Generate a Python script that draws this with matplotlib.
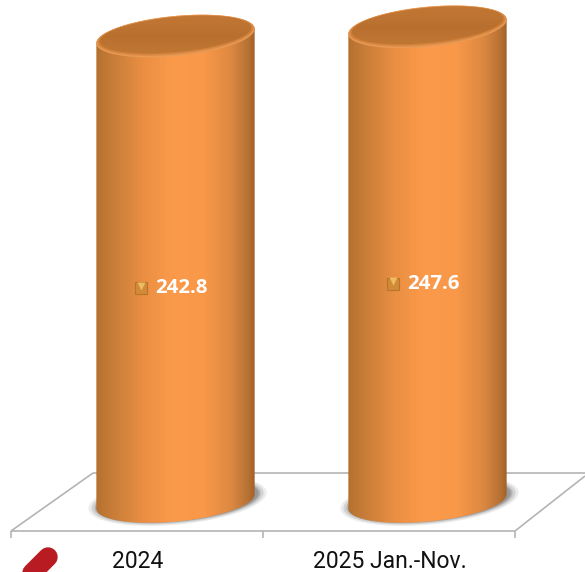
#!/usr/bin/env python3
# -*- coding: utf-8 -*-
import numpy as np
import matplotlib
matplotlib.use("Agg")
import matplotlib.pyplot as plt
from matplotlib.colors import LinearSegmentedColormap
from matplotlib.patches import Polygon

categories = ["2024", "2025 Jan.-Nov."]
values = [242.8, 247.6]

W, H = 585, 572
BASE_PX = 501.5      # pixel row of value 0
PX_PER_UNIT = 1.917
PX_PER_CAT = 252
FIRST_PX = 175.5     # pixel column of first category
A, B, TILT = 79.5, 20.0, 5.5

plt.rcParams['font.family'] = ['Open Sans', 'DejaVu Sans']

body_cmap = LinearSegmentedColormap.from_list("body", [
    (0.00, "#b4702f"), (0.10, "#c67c38"), (0.30, "#ea8f43"), (0.48, "#fb9a4a"),
    (0.68, "#f99848"), (0.85, "#dc8842"), (0.95, "#b87234"), (1.00, "#a06029")])
top_cmap = LinearSegmentedColormap.from_list("top", ["#c47835", "#b9702f", "#c47a36"])


def px_x(p):
    return (p - FIRST_PX) / PX_PER_CAT


def px_y(p):
    return (BASE_PX - p) / PX_PER_UNIT


def ellipse_px(cx, cy, a=A, b=B, tilt=TILT, t=None):
    # tilted ellipse in pixel units, y pointing down
    if t is None:
        t = np.linspace(0, 2 * np.pi, 200)
    th = np.radians(tilt)
    x = a * np.cos(t)
    y = b * np.sin(t)
    return cx + x * np.cos(th) + y * np.sin(th), cy - x * np.sin(th) + y * np.cos(th)


def to_data(x, y):
    return np.column_stack([px_x(np.asarray(x)), px_y(np.asarray(y))])


def cylinder(ax, pos, val):
    cx = FIRST_PX + pos * PX_PER_CAT
    top = BASE_PX - val * PX_PER_UNIT

    # soft shadow on the floor
    for grow, alpha in zip([10, 7, 4, 2], [0.12, 0.2, 0.3, 0.4]):
        sx, sy = ellipse_px(cx + 2, BASE_PX - 1, a=A + grow, b=B + grow * 0.4)
        ax.add_patch(Polygon(to_data(sx, sy), closed=True, fc="#6f6f6f", ec="none",
                             alpha=alpha, zorder=2))

    # side of the cylinder, gradient clipped to its outline
    th = np.radians(TILT)
    t0 = np.arctan2(B * np.sin(th), A * np.cos(th))
    t_low = np.linspace(t0, t0 + np.pi, 100)
    bx, by = ellipse_px(cx, BASE_PX, t=t_low)
    t_up = np.linspace(t0 + np.pi, t0 + 2 * np.pi, 100)
    ux, uy = ellipse_px(cx, top, t=t_up)
    outline = Polygon(to_data(np.r_[bx, ux], np.r_[by, uy]), closed=True, fc="none", ec="none")
    ax.add_patch(outline)
    grad = np.linspace(0, 1, 256).reshape(1, -1)
    xl, xr = bx.min() - 1, bx.max() + 1
    im = ax.imshow(grad, cmap=body_cmap, aspect="auto", zorder=3, interpolation="bilinear",
                   extent=[px_x(xl), px_x(xr), px_y(BASE_PX + 30), px_y(top - 30)])
    im.set_clip_path(outline)

    # top face with a bevelled rim
    for da, db, dy, col in [(0, 0, 0, "#e99a54"), (-1, -1, -0.5, "#dc8c46"),
                            (-2, -2, -1, "#cf8039")]:
        ex, ey = ellipse_px(cx, top + dy, a=A + da, b=B + db)
        ax.add_patch(Polygon(to_data(ex, ey), closed=True, fc=col, ec="none", zorder=4))
    ex, ey = ellipse_px(cx, top - 1.5, a=A - 3.5, b=B - 2.5)
    face = Polygon(to_data(ex, ey), closed=True, fc="none", ec="none", zorder=5)
    ax.add_patch(face)
    im2 = ax.imshow(np.linspace(0, 1, 64).reshape(-1, 1), cmap=top_cmap, aspect="auto", zorder=5,
                    extent=[px_x(cx - 85), px_x(cx + 85), px_y(top + 25), px_y(top - 25)])
    im2.set_clip_path(face)


def main():
    fig = plt.figure(figsize=[W / 100, H / 100], dpi=100)
    ax = fig.add_axes([0, 0, 1, 1])
    ax.axis("off")

    # floor of the 3D plot
    floor = dict(color="#b4b4b4", lw=1.2, zorder=1, solid_capstyle="butt")
    ax.plot(px_x(np.array([11, 515])), px_y(np.array([531, 531])), **floor)
    ax.plot(px_x(np.array([93, 585])), px_y(np.array([473, 473])), **floor)
    ax.plot(px_x(np.array([11, 93])), px_y(np.array([531, 473])), **floor)
    ax.plot(px_x(np.array([515, 585])), px_y(np.array([531, 476])), **floor)
    for i in range(len(categories) + 1):
        xt = px_x(11 + i * PX_PER_CAT)
        ax.plot([xt, xt], px_y(np.array([531, 538])), **floor)

    for i, v in enumerate(values):
        cylinder(ax, i, v)
        ly = v * 0.459
        ax.plot(i - 35 / PX_PER_CAT, ly, marker="s", ms=8.5, mfc="#d08a38", mec="#b87428",
                mew=0.8, zorder=6)
        ax.plot(i - 35 / PX_PER_CAT, ly + 1.2, marker="v", ms=6, mfc="#eebc60", mec="none",
                zorder=7)
        ax.text(i + 5.5 / PX_PER_CAT, ly, "%.1f" % v, color="white", fontsize=14.7, fontweight="bold",
                ha="center", va="center", zorder=7)
        # Roboto here: the J of Open Sans drops below the picture's edge
        ax.text(i - 38 / PX_PER_CAT, px_y(562), categories[i], family="Roboto",
                color="#111111", fontsize=16.5, ha="center", va="center", zorder=7)

    # cut off red stroke from the slide behind
    ax.plot(px_x(np.array([48, 20])), px_y(np.array([557, 585])), color="#b81c22", lw=14,
            solid_capstyle="round", zorder=7)

    ax.set_xlim(px_x(0), px_x(W))
    ax.set_ylim(px_y(H), px_y(0))
    fig.savefig("out.png", dpi=100)


if __name__ == "__main__":
    main()
